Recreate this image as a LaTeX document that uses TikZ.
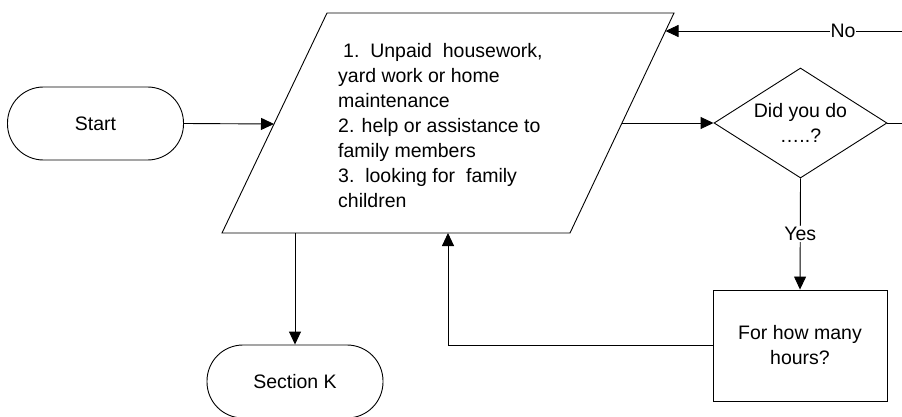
\documentclass[tikz,border=0pt]{standalone}
\usepackage{fontspec}
\setmainfont{Liberation Sans}
\usetikzlibrary{shapes.geometric,arrows.meta}
\begin{document}
\begin{tikzpicture}[x=1pt,y=-1pt,
  every node/.style={font=\fontsize{19.5}{25}\selectfont},
  line/.style={line width=0.9pt},
  arr/.style={line width=0.9pt,-{Triangle[length=13pt,width=12pt]}},
  term/.style={draw,line width=0.9pt,rectangle,rounded corners=36pt,minimum width=176pt,minimum height=73pt,inner sep=0pt},
  dec/.style={draw,line width=0.9pt,diamond,aspect=1.57,minimum width=173pt,minimum height=110pt,inner sep=0pt,align=center},
  proc/.style={draw,line width=0.9pt,rectangle,minimum width=174pt,minimum height=111pt,inner sep=0pt,align=center},
  lbl/.style={fill=white,inner sep=1pt}]
\useasboundingbox (0,0) rectangle (902,417);
% parallelogram
\coordinate (P1) at (327,13);
\coordinate (P2) at (674,13);
\coordinate (P3) at (570,233);
\coordinate (P4) at (222,233);
\draw[line] (P1) -- (P2) -- (P3) -- (P4) -- cycle;
\node[anchor=north west,inner sep=0pt,align=left] (txt) at (338,43)
  {\hspace{5pt}1.\ \ Unpaid\ \ housework,\\yard work or home\\maintenance\\2. help or assistance to\\family members\\3.\ \ looking for\ \ family\\children};
\coordinate (pL) at (274,124);
\coordinate (pR) at (622,123);
\coordinate (pB) at (295,233);
\coordinate (pB2) at (448,233);
\coordinate (pNo) at (665.5,31);
% nodes
\node[term] (start) at (95.5,123.5) {Start};
\node[term] (sk) at (295,381.5) {Section K};
\node[dec] (dia) at (800.5,123) {Did you do\\[0pt]…..?};
\node[proc] (box) at (800,345.5) {For how many\\hours?};
% connectors
\draw[arr] (start.east) -- (pL);
\draw[arr] (pR) -- (dia.west);
\draw[arr] (pB) -- (sk.north);
\draw[arr] (dia.south) -- (box.north) node[lbl,pos=0.5] (yes) {Yes};
\draw[arr] (box.west) -| (pB2);
\draw[arr] (dia.east) -- ++(30,0) |- (pNo);
\node[lbl] (no) at (843,31) {No};
\end{tikzpicture}
\end{document}
